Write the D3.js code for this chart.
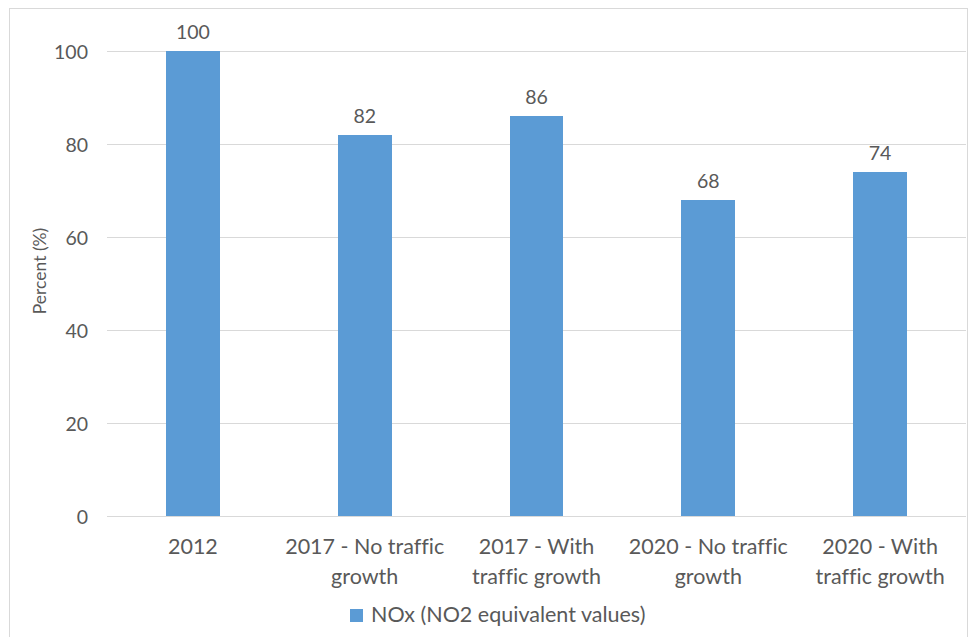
<!DOCTYPE html>
<html>
<head>
<meta charset="utf-8">
<script src="https://cdn.jsdelivr.net/npm/d3@7"></script>
<style>
  html, body { margin: 0; padding: 0; background: #fff; }
  svg { display: block; }
  text { font-family: Lato, "Open Sans", sans-serif; fill: #595959; font-variant-ligatures: none; }
</style>
</head>
<body>
<svg id="chart" width="971" height="637"></svg>
<script>
// Relative NOx emissions by scenario (2012 = 100)
const categories = [
  ["2012"],
  ["2017 - No traffic", "growth"],
  ["2017 - With", "traffic growth"],
  ["2020 - No traffic", "growth"],
  ["2020 - With", "traffic growth"]
];
const values = [100, 82, 86, 68, 74];
const yTicks = [0, 20, 40, 60, 80, 100];
const seriesName = "NOx (NO2 equivalent values)";
const yTitle = "Percent (%)";

const svg = d3.select("#chart");
const plot = { left: 107, right: 966, top: 51, bottom: 516 };
const barColor = "#5B9BD5";
const gridColor = "#D9D9D9";

// chart frame
svg.append("rect")
  .attr("x", 9.5).attr("y", 8.5)
  .attr("width", 958).attr("height", 640)
  .attr("fill", "none").attr("stroke", gridColor).attr("stroke-width", 1);

const keys = categories.map(c => c.join(" "));
const x = d3.scaleBand()
  .domain(keys)
  .range([plot.left, plot.right])
  .paddingInner(0.686)
  .paddingOuter(0.343);

const y = d3.scaleLinear().domain([0, 100]).range([plot.bottom, plot.top]);

// horizontal gridlines and tick labels
const yAxis = d3.axisLeft(y)
  .tickValues(yTicks)
  .tickSize(-(plot.right - plot.left))
  .tickPadding(20)
  .tickFormat(d3.format("d"));

const gy = svg.append("g")
  .attr("transform", `translate(${plot.left},0)`)
  .call(yAxis);
gy.select(".domain").remove();
gy.selectAll(".tick line")
  .attr("stroke", gridColor)
  .attr("shape-rendering", "crispEdges");
gy.selectAll(".tick text")
  .attr("x", 88 - plot.left)
  .attr("dy", "0.36em")
  .style("font-size", "19.5px")
  .style("font-family", "Lato, sans-serif")
  .attr("fill", "#595959");

// bars
svg.append("g").selectAll("rect")
  .data(values)
  .join("rect")
  .attr("x", (d, i) => x(keys[i]))
  .attr("y", d => y(d))
  .attr("width", x.bandwidth())
  .attr("height", d => y(0) - y(d))
  .attr("fill", barColor)
  .attr("shape-rendering", "crispEdges");

// value labels
svg.append("g").selectAll("text")
  .data(values)
  .join("text")
  .attr("x", (d, i) => x(keys[i]) + x.bandwidth() / 2)
  .attr("y", d => y(d) - 12)
  .attr("text-anchor", "middle")
  .style("font-size", "19.5px")
  .text(d => d);

// category labels (two lines where needed)
const catG = svg.append("g");
categories.forEach((lines, i) => {
  const cx = x(keys[i]) + x.bandwidth() / 2;
  const t = catG.append("text")
    .attr("text-anchor", "middle")
    .style("font-size", "21.5px");
  lines.forEach((ln, j) => {
    t.append("tspan")
      .attr("x", cx)
      .attr("y", 554 + j * 30)
      .text(ln);
  });
});

// y axis title
svg.append("text")
  .attr("transform", "translate(46,271) rotate(-90)")
  .attr("text-anchor", "middle")
  .style("font-size", "17.5px")
  .text(yTitle);

// legend
const lg = svg.append("g");
lg.append("rect")
  .attr("x", 350).attr("y", 609)
  .attr("width", 13).attr("height", 13)
  .attr("fill", barColor);
lg.append("text")
  .attr("x", 371).attr("y", 622)
  .style("font-size", "21.5px")
  .text(seriesName);
</script>
</body>
</html>
